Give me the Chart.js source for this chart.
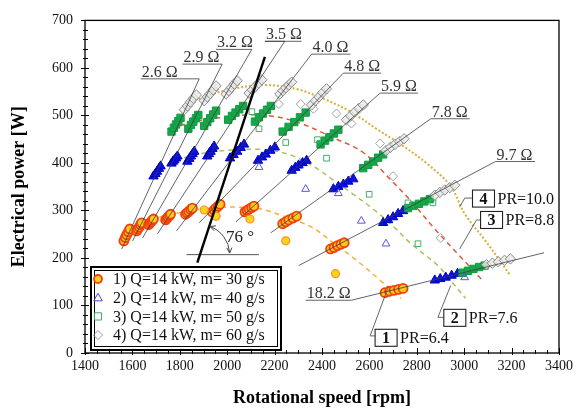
<!DOCTYPE html>
<html>
<head>
<meta charset="utf-8">
<script src="https://cdn.jsdelivr.net/npm/chart.js@4.4.1/dist/chart.umd.min.js"></script>
<style>
  body { margin: 0; background: #fff; }
</style>
</head>
<body>
<canvas id="chart" width="578" height="414"></canvas>
<script>
const FONT = "'Liberation Serif', 'Times New Roman', 'DejaVu Serif', serif";

// 1) Q=14 kW, m=30 g/s  (five readings per cluster, one cluster per load resistance)
const s1Rpm = [1564,1570,1576,1583,1589, 1618,1623,1629,1634,1639, 1668,1673,1679,1684,1689,
               1740,1745,1750,1756,1761, 1824,1831,1838,1846,1853, 1937,1945,1953,1962,1970,
               2075,2084,2092,2103,2113, 2234,2247,2260,2277,2293, 2436,2451,2465,2480,2494,
               2666,2685,2704,2723,2742];
const s1Pow = [236,243,249,255,261, 257,261,265,270,274, 270,273,276,279,282,
               280,283,286,289,292, 292,295,298,302,305, 297,301,305,309,313,
               297,300,303,306,309, 272,276,280,284,288, 219,222,226,229,232,
               127,130,132,134,136];
const s1OddRpm = [1903, 1953, 2096, 2247, 2457];
const s1OddPow = [301, 288, 282, 236, 167];

// 2) m=40 g/s
const s2Rpm = [1689,1697,1704,1712,1719, 1765,1771,1777,1784,1790, 1832,1840,1847,1854,1861,
               1916,1923,1930,1938,1945, 2012,2027,2042,2057,2071, 2130,2147,2163,2182,2201,
               2272,2287,2301,2318,2335, 2448,2469,2490,2511,2532, 2658,2679,2700,2721,2742,
               2876,2899,2922,2947,2972];
const s2Pow = [372,377,382,388,393, 399,403,406,410,414, 403,409,414,419,424,
               414,419,424,430,435, 410,417,424,432,439, 405,412,418,426,433,
               384,390,395,400,405, 345,350,355,361,366, 274,280,286,293,299,
               153,156,159,163,167];
const s2OddRpm = [2134, 2331, 2469, 2566, 2670, 3002];
const s2OddPow = [391, 345, 336, 278, 230, 159];

// 3) m=50 g/s
const s3Rpm = [1765,1775,1784,1794,1803, 1836,1847,1857,1868,1878, 1903,1916,1928,1941,1953,
               2004,2020,2035,2051,2067, 2117,2134,2151,2168,2184, 2234,2259,2283,2307,2331,
               2394,2413,2431,2450,2469, 2574,2595,2616,2637,2658, 2763,2786,2809,2832,2855,
               2993,3016,3039,3063,3086];
const s3Pow = [466,474,481,488,495, 472,480,487,494,501, 478,486,494,502,510,
               491,499,506,513,520, 487,496,504,512,520, 466,476,486,496,506,
               439,447,454,462,470, 389,396,403,411,418, 305,310,314,319,324,
               169,173,177,181,184];
const s3OddRpm = [2104, 2134, 2247, 2381, 2419, 2599, 2805, 2763, 2868];
const s3OddPow = [508, 472, 443, 449, 410, 334, 230, 316, 316];

// 4) m=60 g/s
const s4Rpm = [1819,1832,1844,1857,1870, 1903,1916,1928,1941,1953, 1995,2007,2018,2030,2042,
               2092,2106,2119,2133,2146, 2222,2235,2247,2260,2272, 2356,2372,2387,2403,2419,
               2503,2521,2538,2556,2574, 2670,2689,2708,2727,2746, 2876,2897,2918,2939,2960,
               3094,3119,3144,3170,3195];
const s4Pow = [512,520,528,536,543, 531,539,546,554,562, 545,552,559,566,573,
               547,554,561,568,575, 545,552,558,564,570, 522,531,539,548,556,
               491,499,507,515,522, 426,433,439,445,451, 332,338,343,348,353,
               186,189,192,195,198];
const s4OddRpm = [2218, 2310, 2364, 2461, 2524, 2645, 2700, 2901];
const s4OddPow = [524, 524, 514, 504, 483, 441, 372, 242];

// trend curves
const t1Rpm = [1555,1631,1714,1819,1924,2050,2142,2260,2356,2448,2553,2645,2733];
const t1Pow = [234,265,286,297,305,307,303,284,265,232,192,153,115];
const t2Rpm = [1681,1756,1840,1945,2050,2155,2260,2356,2448,2532,2616,2700,2771,2889,2951,3006];
const t2Pow = [378,399,414,424,428,428,418,395,364,334,303,267,232,184,148,115];
const t3Rpm = [1765,1861,1966,2079,2184,2301,2448,2574,2687,2775,2876,2972,3077];
const t3Pow = [472,487,495,501,499,485,453,422,366,320,261,209,153];
const t4Rpm = [1819,1903,2008,2146,2289,2406,2520,2629,2733,2847,2943,3002,3090,3195];
const t4Pow = [520,539,554,564,556,535,508,472,439,397,351,293,236,163];

// constant load resistance lines (lower end, upper end, label underline)
const resLabels = ['2.6 Ω','2.9 Ω','3.2 Ω','3.5 Ω','4.0 Ω','4.8 Ω','5.9 Ω','7.8 Ω','9.7 Ω','18.2 Ω'];
const resRpm = [
  [1555,1882,1635], [1601,1979,1811], [1643,2104,1953], [1706,2243,2159,2314],
  [1786,2356,2520], [1882,2490,2649], [2037,2645,2805], [2184,2859,3023],
  [2302,3132,3299], [2331,2524,3337]
];
const resPow = [
  [219,577,577], [236,608,608], [242,639,639], [251,656,656,656],
  [257,629,629], [274,589,589], [276,547,547], [253,493,493],
  [184,403,403], [111,111,211]
];

// 76 degree line and its horizontal reference
const slopeRpm = [1874, 2159];
const slopePow = [190, 623];
const baseRpm = [1828, 2134];
const basePow = [207, 207];

const legendLabels = ['1) Q=14 kW, m= 30 g/s', '2) Q=14 kW, m= 40 g/s',
                      '3) Q=14 kW, m= 50 g/s', '4) Q=14 kW, m= 60 g/s'];

// annotation anchors (data coordinates)
const resLabelAt = [[1635,577],[1811,608],[1953,639],[2159,656],[2356,629],
                    [2490,589],[2645,547],[2859,493],[3132,403],[2331,111]];
const prNotes = [
  { n: '1', text: 'PR=6.4',  at: [2624, 32],  leader: [[2679,138],[2603,36],[2624,36]] },
  { n: '2', text: 'PR=7.6',  at: [2914, 74],  leader: [[2943,142],[2889,75],[2914,75]] },
  { n: '3', text: 'PR=8.8',  at: [3069, 280], leader: [[2981,219],[3052,280],[3069,280]] },
  { n: '4', text: 'PR=10.0', at: [3035, 325], leader: [[2981,307],[3002,326],[3035,326]] }
];

const pts = (xs, ys) => xs.map((v, i) => ({ x: v, y: ys[i] }));

function markers(xs, ys, style) {
  return Object.assign({ data: pts(xs, ys), showLine: false, order: 1 }, style);
}
function curve(xs, ys, style) {
  return Object.assign({ data: pts(xs, ys), showLine: true, pointRadius: 0, fill: false, order: 2 }, style);
}

const datasets = [];
resRpm.forEach((r, i) => {
  datasets.push(curve(r, resPow[i], { borderColor: '#3c3c3c', borderWidth: 0.8, tension: 0, order: 0 }));
});
datasets.push(curve(baseRpm, basePow, { borderColor: '#555', borderWidth: 1, tension: 0, order: 3 }));
datasets.push(curve(slopeRpm, slopePow, { borderColor: '#000', borderWidth: 2.4, tension: 0, order: 0 }));

datasets.push(curve(t1Rpm, t1Pow, { borderColor: '#f3b23c', borderWidth: 1.5, borderDash: [5, 4], tension: 0.35 }));
datasets.push(curve(t2Rpm, t2Pow, { borderColor: '#a7c25a', borderWidth: 1.5, borderDash: [5, 4], tension: 0.35 }));
datasets.push(curve(t3Rpm, t3Pow, { borderColor: '#e2583a', borderWidth: 1.5, borderDash: [5, 4], tension: 0.35 }));
datasets.push(curve(t4Rpm, t4Pow, { borderColor: '#d6b03a', borderWidth: 2, borderDash: [2, 2], tension: 0.35 }));

datasets.push(markers(s1OddRpm, s1OddPow, { pointStyle: 'circle', pointRadius: 4, pointBackgroundColor: '#ffd21c', pointBorderColor: '#f6902a', pointBorderWidth: 1.2 }));
datasets.push(markers(s2OddRpm, s2OddPow, { pointStyle: 'triangle', pointRadius: 4.5, pointBackgroundColor: 'rgba(0,0,0,0)', pointBorderColor: '#5656e2', pointBorderWidth: 1 }));
datasets.push(markers(s3OddRpm, s3OddPow, { pointStyle: 'rect', pointRadius: 4, pointBackgroundColor: 'rgba(0,0,0,0)', pointBorderColor: '#43ae6a', pointBorderWidth: 1 }));
datasets.push(markers(s4OddRpm, s4OddPow, { pointStyle: 'rectRot', pointRadius: 4.5, pointBackgroundColor: 'rgba(0,0,0,0)', pointBorderColor: '#a2a2a2', pointBorderWidth: 1 }));

datasets.push(markers(s4Rpm, s4Pow, { pointStyle: 'rectRot', pointRadius: 5.2, pointBackgroundColor: 'rgba(232,232,232,0.8)', pointBorderColor: '#8a8a8a', pointBorderWidth: 1 }));
datasets.push(markers(s3Rpm, s3Pow, { pointStyle: 'rect', pointRadius: 5.2, pointBackgroundColor: '#17a64a', pointBorderColor: '#109c40', pointBorderWidth: 1 }));
datasets.push(markers(s2Rpm, s2Pow, { pointStyle: 'triangle', pointRadius: 5.4, pointBackgroundColor: '#0a12e2', pointBorderColor: '#0000c4', pointBorderWidth: 1 }));
datasets.push(markers(s1Rpm, s1Pow, { pointStyle: 'circle', pointRadius: 4.5, pointBackgroundColor: '#ffc81a', pointBorderColor: '#f2400e', pointBorderWidth: 1.8 }));

function mark(ctx, style, x, y, r) {
  ctx.beginPath();
  if (style === 'circle') {
    ctx.arc(x, y, r, 0, Math.PI * 2);
  } else if (style === 'triangle') {
    ctx.moveTo(x, y - r); ctx.lineTo(x + r * 0.95, y + r * 0.7); ctx.lineTo(x - r * 0.95, y + r * 0.7); ctx.closePath();
  } else if (style === 'rect') {
    ctx.rect(x - r * 0.8, y - r * 0.8, r * 1.6, r * 1.6);
  } else {
    ctx.moveTo(x, y - r); ctx.lineTo(x + r, y); ctx.lineTo(x, y + r); ctx.lineTo(x - r, y); ctx.closePath();
  }
}

const annotations = {
  id: 'annotations',
  afterDatasetsDraw(chart) {
    const { ctx, chartArea: a, scales: { x, y } } = chart;
    const px = v => x.getPixelForValue(v);
    const py = v => y.getPixelForValue(v);
    ctx.save();

    // frame and tick marks
    ctx.strokeStyle = '#000';
    ctx.lineWidth = 1.3;
    ctx.strokeRect(a.left, a.top, a.right - a.left, a.bottom - a.top);
    ctx.lineWidth = 1;
    for (let v = 0; v <= 700; v += 20) {
      const yy = Math.round(py(v)) + 0.5, big = v % 100 === 0;
      ctx.beginPath(); ctx.moveTo(a.left - (big ? 4 : 2), yy); ctx.lineTo(a.left + (big ? 4 : 3), yy); ctx.stroke();
    }
    for (let v = 1400; v <= 3400; v += 50) {
      const xx = Math.round(px(v)) + 0.5, big = v % 200 === 0;
      ctx.beginPath(); ctx.moveTo(xx, a.bottom + (big ? 2 : 1)); ctx.lineTo(xx, a.bottom - (big ? 5 : 3)); ctx.stroke();
    }

    // resistance labels
    ctx.fillStyle = '#333';
    ctx.font = '16px ' + FONT;
    ctx.textAlign = 'left';
    ctx.textBaseline = 'alphabetic';
    resLabels.forEach((t, i) => ctx.fillText(t, px(resLabelAt[i][0]) + 1, py(resLabelAt[i][1]) - 2));

    // 76 degree arc
    const cx = px(1884), cy = py(207), r = 30;
    const a0 = -70 * Math.PI / 180, a1 = -3 * Math.PI / 180;
    ctx.strokeStyle = '#444';
    ctx.lineWidth = 1;
    ctx.beginPath(); ctx.arc(cx, cy, r, a0, a1); ctx.stroke();
    const head = (ang, dir) => {
      const ex = cx + r * Math.cos(ang), ey = cy + r * Math.sin(ang);
      const tx = -Math.sin(ang) * dir, ty = Math.cos(ang) * dir;
      [0.45, -0.45].forEach(s => {
        const c = Math.cos(s), sn = Math.sin(s);
        const bx = tx * c - ty * sn, by = tx * sn + ty * c;
        ctx.beginPath(); ctx.moveTo(ex, ey); ctx.lineTo(ex - bx * 6, ey - by * 6); ctx.stroke();
      });
    };
    head(a1, 1);
    head(a0, -1);
    ctx.fillStyle = '#222';
    ctx.font = '17px ' + FONT;
    ctx.textAlign = 'center';
    ctx.textBaseline = 'middle';
    ctx.fillText('76 °', px(2054), py(244));

    // PR boxes
    prNotes.forEach(p => {
      ctx.strokeStyle = '#555';
      ctx.lineWidth = 0.9;
      ctx.beginPath();
      p.leader.forEach((q, i) => i ? ctx.lineTo(px(q[0]), py(q[1])) : ctx.moveTo(px(q[0]), py(q[1])));
      ctx.stroke();
      const bx = px(p.at[0]), by = py(p.at[1]);
      ctx.fillStyle = '#fff';
      ctx.fillRect(bx, by - 8.5, 22, 17);
      ctx.strokeStyle = '#222';
      ctx.lineWidth = 1.1;
      ctx.strokeRect(bx, by - 8.5, 22, 17);
      ctx.fillStyle = '#111';
      ctx.font = 'bold 16px ' + FONT;
      ctx.textAlign = 'center';
      ctx.fillText(p.n, bx + 11, by + 1);
      ctx.font = '16px ' + FONT;
      ctx.textAlign = 'left';
      ctx.fillText(p.text, bx + 25, by + 1);
    });

    // legend
    const lx = a.left + 6, ly = a.bottom - 86;
    ctx.fillStyle = '#fff';
    ctx.fillRect(lx, ly, 190, 83);
    ctx.strokeStyle = '#000';
    ctx.lineWidth = 2;
    ctx.strokeRect(lx, ly, 190, 83);
    ctx.lineWidth = 1;
    ctx.strokeRect(lx + 3.5, ly + 3.5, 183, 76);
    const styles = [
      ['circle', '#ffd21c', '#f2400e', 1.8, 4],
      ['triangle', null, '#4848e0', 1, 4.5],
      ['rect', null, '#3aaa62', 1, 4.5],
      ['rectRot', null, '#9a9a9a', 1, 4.5]
    ];
    legendLabels.forEach((t, i) => {
      const rowY = ly + 12 + i * 18.7;
      const s = styles[i];
      mark(ctx, s[0], lx + 7, rowY, s[4]);
      if (s[1]) { ctx.fillStyle = s[1]; ctx.fill(); }
      ctx.strokeStyle = s[2]; ctx.lineWidth = s[3]; ctx.stroke();
      ctx.fillStyle = '#111';
      ctx.font = '16px ' + FONT;
      ctx.textAlign = 'left';
      ctx.textBaseline = 'middle';
      ctx.fillText(t, lx + 22, rowY + 1);
    });

    ctx.restore();
  }
};

Chart.defaults.font.family = FONT;

new Chart(document.getElementById('chart'), {
  type: 'scatter',
  data: { datasets },
  options: {
    responsive: false,
    animation: false,
    events: [],
    layout: { padding: { top: 18, right: 16, left: 0, bottom: 0 } },
    plugins: { legend: { display: false }, tooltip: { enabled: false } },
    scales: {
      x: {
        type: 'linear', min: 1400, max: 3400,
        ticks: { stepSize: 200, font: { size: 14 }, color: '#111', padding: 5, maxRotation: 0, autoSkip: false,
                 callback: v => String(v) },
        grid: { display: false, drawTicks: false },
        border: { display: false },
        title: { display: true, text: 'Rotational speed [rpm]', color: '#000',
                 font: { size: 18, weight: 'bold' }, padding: { top: 0, bottom: 5 } },
        afterFit: s => { s.height = 61; }
      },
      y: {
        type: 'linear', min: 0, max: 700,
        ticks: { stepSize: 100, font: { size: 14 }, color: '#111', padding: 12, callback: v => String(v) },
        grid: { display: false, drawTicks: false },
        border: { display: false },
        title: { display: true, text: 'Electrical power [W]', color: '#000',
                 font: { size: 18, weight: 'bold' }, padding: { top: 9, bottom: 0 } },
        afterFit: s => { s.width = 85; }
      }
    }
  },
  plugins: [annotations]
});
</script>
</body>
</html>
